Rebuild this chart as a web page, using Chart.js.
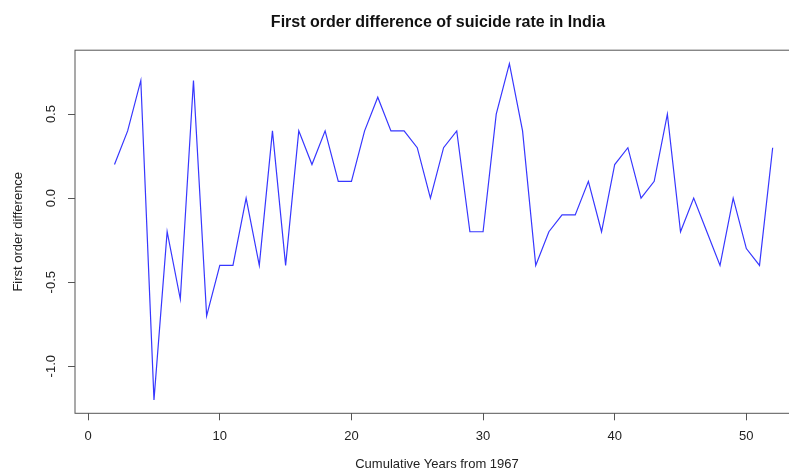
<!DOCTYPE html>
<html>
<head>
<meta charset="utf-8">
<script src="https://cdn.jsdelivr.net/npm/chart.js@4"></script>
<style>
  html, body { margin: 0; padding: 0; background: #fff; overflow: hidden; }
  #wrap { width: 876px; height: 472px; }
</style>
</head>
<body>
<div id="wrap"><canvas id="myChart" width="876" height="472"></canvas></div>
<script>
const years = [2, 3, 4, 5, 6, 7, 8, 9, 10, 11, 12, 13, 14, 15, 16, 17, 18, 19, 20, 21, 22, 23, 24, 25, 26, 27,
  28, 29, 30, 31, 32, 33, 34, 35, 36, 37, 38, 39, 40, 41, 42, 43, 44, 45, 46, 47, 48, 49, 50, 51, 52];
const firstDiff = [0.2, 0.4, 0.7, -1.2, -0.2, -0.6, 0.7, -0.7, -0.4, -0.4, 0.0, -0.4, 0.4, -0.4, 0.4, 0.2, 0.4,
  0.1, 0.1, 0.4, 0.6, 0.4, 0.4, 0.3, 0.0, 0.3, 0.4, -0.2, -0.2, 0.5, 0.8, 0.4, -0.4, -0.2, -0.1, -0.1, 0.1,
  -0.2, 0.2, 0.3, 0.0, 0.1, 0.5, -0.2, 0.0, -0.2, -0.4, 0.0, -0.3, -0.4, 0.3];
const xTicks = [0, 10, 20, 30, 40, 50];
const yTicks = [-1.0, -0.5, 0.0, 0.5];

const boxColor = "#555";

// frame around the plot region, like R's box()
const plotBox = {
  id: "plotBox",
  afterDraw(chart) {
    const { ctx, chartArea: a } = chart;
    ctx.save();
    ctx.strokeStyle = boxColor;
    ctx.lineWidth = 1;
    ctx.strokeRect(a.left, a.top, a.right - a.left, a.bottom - a.top);
    ctx.restore();
  },
};

const ctx = document.getElementById("myChart").getContext("2d");

// canvas is wider than the window so the plot runs off the right edge, as in the picture
new Chart(ctx, {
  type: "line",
  data: {
    datasets: [
      {
        label: "First order difference",
        data: years.map((y, i) => ({ x: y, y: firstDiff[i] })),
        borderColor: "rgb(55, 55, 255)",
        borderWidth: 1.2,
        pointRadius: 0,
        tension: 0,
        fill: false,
      },
    ],
  },
  options: {
    responsive: false,
    animation: false,
    layout: { padding: 0 },
    plugins: {
      legend: { display: false },
      tooltip: { enabled: false },
      title: {
        display: true,
        text: "First order difference of suicide rate in India",
        color: "#111",
        font: { family: "Liberation Sans, Arial, sans-serif", size: 16, weight: "bold" },
        padding: { top: 13, bottom: 18 },
      },
    },
    scales: {
      x: {
        type: "linear",
        min: -1,
        max: 54,
        afterBuildTicks: (scale) => {
          scale.ticks = xTicks.map((v) => ({ value: v }));
        },
        afterFit: (scale) => {
          scale.height = 58.7;
        },
        border: { display: false },
        grid: { drawOnChartArea: false, drawTicks: true, tickLength: 7, color: boxColor },
        ticks: {
          color: "#222",
          padding: 8,
          maxRotation: 0,
          font: { family: "Liberation Sans, Arial, sans-serif", size: 13 },
        },
        title: {
          display: true,
          text: "Cumulative Years from 1967",
          color: "#222",
          padding: { top: 0, bottom: 0 },
          font: { family: "Liberation Sans, Arial, sans-serif", size: 13 },
        },
      },
      y: {
        min: -1.28,
        max: 0.88,
        afterBuildTicks: (scale) => {
          scale.ticks = yTicks.map((v) => ({ value: v }));
        },
        afterFit: (scale) => {
          scale.width = 75;
        },
        border: { display: false },
        grid: { drawOnChartArea: false, drawTicks: true, tickLength: 7, color: boxColor },
        ticks: {
          color: "#222",
          padding: 5,
          minRotation: 90,
          maxRotation: 90,
          crossAlign: "center",
          font: { family: "Liberation Sans, Arial, sans-serif", size: 13 },
          callback: (v) => Number(v).toFixed(1),
        },
        title: {
          display: true,
          text: "First order difference",
          color: "#222",
          padding: { top: 11, bottom: 0 },
          font: { family: "Liberation Sans, Arial, sans-serif", size: 13 },
        },
      },
      // empty right margin, sits outside the visible window
      yRight: {
        type: "linear",
        position: "right",
        afterFit: (scale) => {
          scale.width = 77;
        },
        border: { display: false },
        grid: { display: false },
        ticks: { display: false },
      },
    },
  },
  plugins: [plotBox],
});
</script>
</body>
</html>
